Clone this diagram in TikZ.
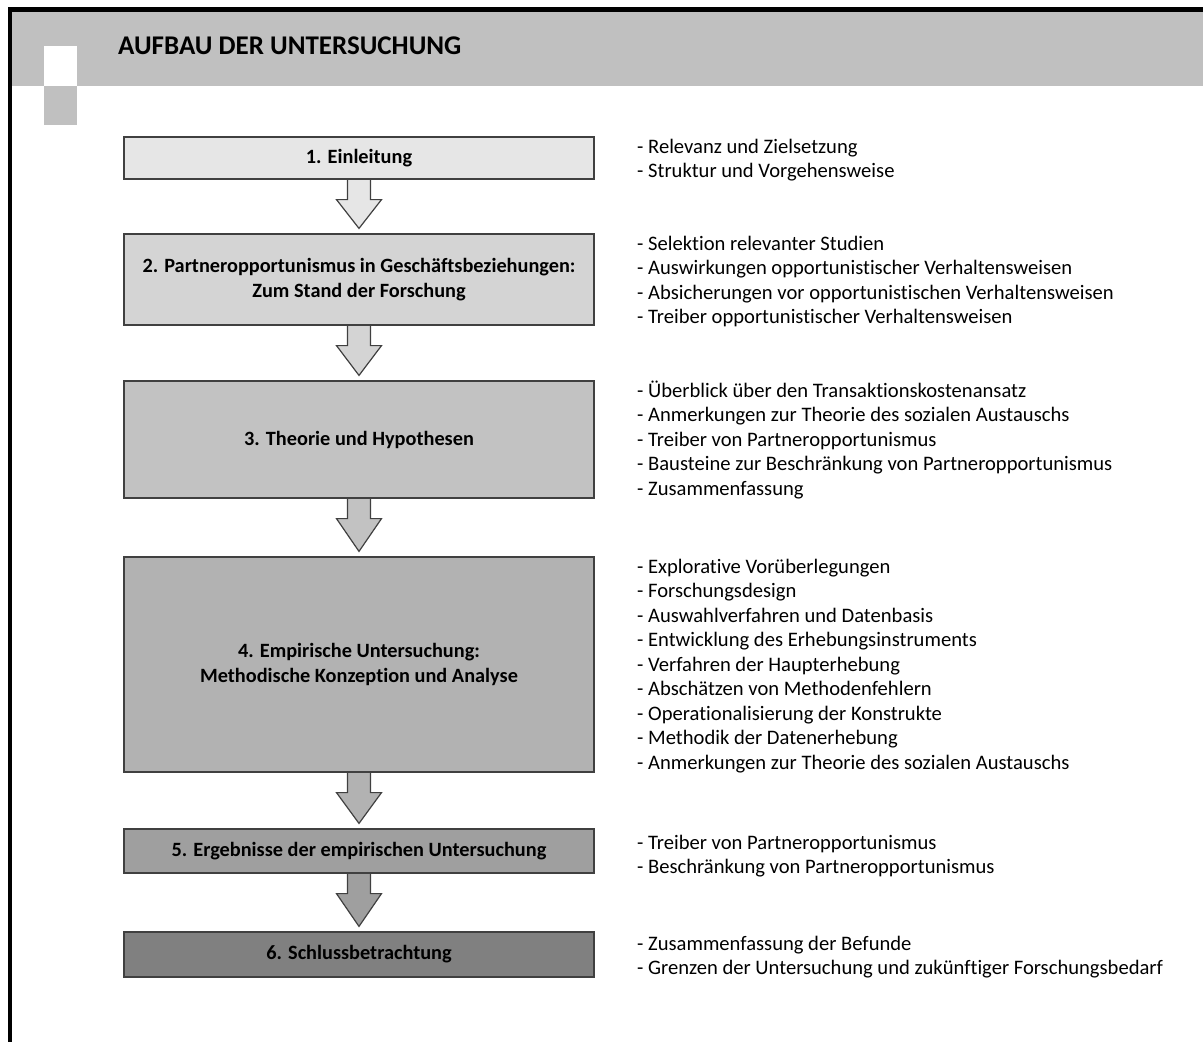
\documentclass[tikz,border=0pt]{standalone}
\usepackage{fontspec}
\setmainfont{Carlito}[Ligatures={NoCommon}]
\usetikzlibrary{calc,backgrounds}

\definecolor{bandgray}{HTML}{C0C0C0}
\definecolor{edgegray}{HTML}{404040}
\definecolor{stageA}{HTML}{E6E6E6}
\definecolor{stageB}{HTML}{D4D4D4}
\definecolor{stageC}{HTML}{C2C2C2}
\definecolor{stageD}{HTML}{B2B2B2}
\definecolor{stageE}{HTML}{9F9F9F}
\definecolor{stageF}{HTML}{808080}

% block arrow hanging below one stage and pointing at the next
\newcommand\stagearrow[3]{%
  \begin{scope}[on background layer]
    \fill[#3] ($(#1.south)+(-11.5,0)$) -- ($(#1.south)+(-11.5,20)$)
      -- ($(#1.south)+(-22.5,20)$) -- ($(#2.north)+(0,-5)$)
      -- ($(#1.south)+(22.5,20)$) -- ($(#1.south)+(11.5,20)$)
      -- ($(#1.south)+(11.5,0)$) -- cycle;
    \draw[stageedge] ($(#1.south)+(-11.5,0)$) -- ($(#1.south)+(-11.5,20)$)
      -- ($(#1.south)+(-22.5,20)$) -- ($(#2.north)+(0,-5)$)
      -- ($(#1.south)+(22.5,20)$) -- ($(#1.south)+(11.5,20)$)
      -- ($(#1.south)+(11.5,0)$);
  \end{scope}}

% bullet list to the right of a stage, first baseline at #2
\newcommand\topiclist[3]{%
  \foreach \t [count=\i] in {#3}
    \node[topic] (#1-\i) at (637,{#2+24.5*(\i-1)}) {- \t};}

\begin{document}
\begin{tikzpicture}[x=1pt,y=-1pt,
  stageedge/.style={draw=edgegray, line width=1.2pt, line join=miter},
  stage/.style={stageedge, minimum width=470pt, align=center, inner sep=0pt,
    font=\bfseries\fontsize{20.3}{24.5}\selectfont},
  topic/.style={anchor=base west, inner sep=0pt, font=\fontsize{20.6}{24}\selectfont},
  title/.style={anchor=base west, inner sep=0pt, font=\bfseries\fontsize{27}{32}\selectfont}]

\begin{scope}[on background layer]
  \fill[white] (0,0) rectangle (1203,1042);
\end{scope}
\useasboundingbox (0,0) rectangle (1203,1042);

% header band, frame and corner squares
\fill[bandgray] (12,11) rectangle (1203,86);
\fill[black] (7.5,7) rectangle (1203,11.8);
\fill[black] (7.5,7) rectangle (12.2,1042);
\fill[white] (44,46) rectangle (77,86);
\fill[bandgray] (44,86) rectangle (77,125);
\node[title] (head) at (118,54.5) {AUFBAU DER UNTERSUCHUNG};

% stages
\node[stage, fill=stageA, minimum height=42pt]  (s1) at (359,158)   {1. Einleitung};
\node[stage, fill=stageB, minimum height=91pt]  (s2) at (359,279.5) {2. Partneropportunismus in Geschäftsbeziehungen:\\Zum Stand der Forschung};
\node[stage, fill=stageC, minimum height=117pt] (s3) at (359,439.5) {3. Theorie und Hypothesen};
\node[stage, fill=stageD, minimum height=215pt] (s4) at (359,664.5) {4. Empirische Untersuchung:\\Methodische Konzeption und Analyse};
\node[stage, fill=stageE, minimum height=44pt]  (s5) at (359,851)   {5. Ergebnisse der empirischen Untersuchung};
\node[stage, fill=stageF, minimum height=45pt]  (s6) at (359,954.5) {6. Schlussbetrachtung};

% arrows between stages
\stagearrow{s1}{s2}{stageA}
\stagearrow{s2}{s3}{stageB}
\stagearrow{s3}{s4}{stageC}
\stagearrow{s4}{s5}{stageD}
\stagearrow{s5}{s6}{stageE}

% topics of each stage
\topiclist{t1}{153}{Relevanz und Zielsetzung, Struktur und Vorgehensweise}
\topiclist{t2}{250}{Selektion relevanter Studien, Auswirkungen opportunistischer Verhaltensweisen,
  Absicherungen vor opportunistischen Verhaltensweisen, Treiber opportunistischer Verhaltensweisen}
\topiclist{t3}{397}{Überblick über den Transaktionskostenansatz, Anmerkungen zur Theorie des sozialen Austauschs,
  Treiber von Partneropportunismus, Bausteine zur Beschränkung von Partneropportunismus, Zusammenfassung}
\topiclist{t4}{573}{Explorative Vorüberlegungen, Forschungsdesign, Auswahlverfahren und Datenbasis,
  Entwicklung des Erhebungsinstruments, Verfahren der Haupterhebung, Abschätzen von Methodenfehlern,
  Operationalisierung der Konstrukte, Methodik der Datenerhebung, Anmerkungen zur Theorie des sozialen Austauschs}
\topiclist{t5}{849}{Treiber von Partneropportunismus, Beschränkung von Partneropportunismus}
\topiclist{t6}{950}{Zusammenfassung der Befunde, Grenzen der Untersuchung und zukünftiger Forschungsbedarf}

\end{tikzpicture}
\end{document}
